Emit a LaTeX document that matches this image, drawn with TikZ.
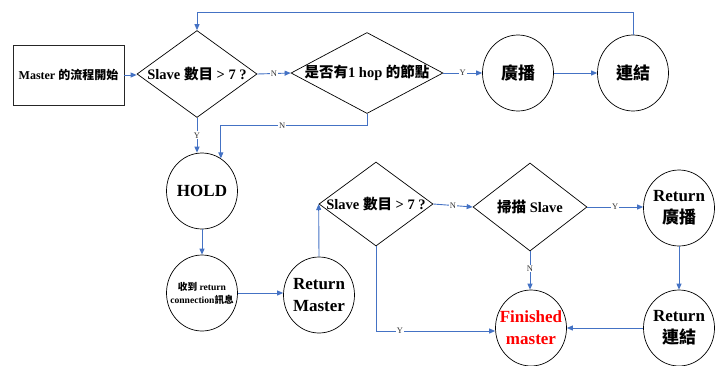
\documentclass[tikz,border=0pt]{standalone}
\usepackage{fontspec}
\setmainfont{Liberation Serif}
\newfontfamily\cjkfont{Noto Sans CJK TC}
\newcommand{\zhtxt}[1]{{\cjkfont\bfseries #1}}
\usetikzlibrary{shapes.geometric,arrows.meta,calc}
\definecolor{conn}{HTML}{4472C4}
\definecolor{fred}{HTML}{FF0000}
\tikzset{
  boxnode/.style={draw=black!85, line width=0.7pt, rectangle, minimum width=111, minimum height=60, inner sep=0pt},
  dianode/.style={draw=black, line width=0.7pt, diamond, inner sep=0pt},
  cirnode/.style={draw=black, line width=0.7pt, ellipse, minimum width=71, minimum height=76, inner sep=0pt},
  arr/.style={draw=conn, line width=0.9pt, -{Triangle[length=6pt,width=5pt]}},
  lbl/.style={fill=white, inner sep=1pt, font=\fontsize{8.5}{9}\selectfont, text=black!80},
  dtext/.style={font=\fontsize{14.5}{16}\selectfont\bfseries},
  ctext/.style={font=\fontsize{17}{22}\selectfont\bfseries, align=center},
}
\begin{document}
\begin{tikzpicture}[x=1pt,y=-1pt]
\useasboundingbox (0,0) rectangle (723,365);

% top row
\node[boxnode, font=\fontsize{12}{14}\selectfont\bfseries] (m) at (68.5,75) {Master \zhtxt{的流程開始}};
\node[dianode, minimum width=120, minimum height=87,
  label={[dtext]center:Slave \zhtxt{數目} > 7 ?}] (d1) at (197,74) {};
\node[dianode, minimum width=152, minimum height=81,
  label={[dtext]center:\zhtxt{是否有}1 hop \zhtxt{的節點}}] (d2) at (367,73) {};
\node[cirnode, label={[ctext]center:\zhtxt{廣播}}] (gb) at (518,73) {};
\node[cirnode, label={[ctext]center:\zhtxt{連結}}] (lj) at (633,73) {};

% left column
\node[cirnode, label={[ctext]center:HOLD}] (hold) at (202,191) {};
\node[cirnode, label={[font=\fontsize{9.6}{13}\selectfont\bfseries, align=center]center:\zhtxt{收到} return\\connection\zhtxt{訊息}}] (sd) at (202,293) {};
\node[cirnode, label={[ctext]center:Return\\Master}] (rm) at (319,295) {};

% lower row
\node[dianode, minimum width=114, minimum height=84,
  label={[dtext]center:Slave \zhtxt{數目} > 7 ?}] (d3) at (376,204) {};
\node[dianode, minimum width=114, minimum height=88,
  label={[dtext]center:\zhtxt{掃描} Slave}] (d4) at (530,207) {};
\node[cirnode, label={[ctext]center:Return\\\zhtxt{廣播}}] (rb) at (679,208) {};
\node[cirnode, label={[ctext]center:Return\\\zhtxt{連結}}] (rl) at (679,328) {};
\node[cirnode, label={[ctext, text=fred]center:Finished\\master}] (fm) at (531,328) {};

% connectors
\draw[arr] (m.east) -- (m.east -| d1.west);
\draw[arr] (d1.east) -- node[lbl]{N} (d2.west);
\draw[arr] (d2.east) -- node[lbl]{Y} (gb.west);
\draw[arr] (gb.east) -- (lj.west);
\draw[arr] (lj.north) -- ++(0,-22) -| (d1.north);
\draw[arr] (d1.south) -- node[lbl]{Y} (d1.south |- hold.north);
\draw[arr] (d2.south) -- ++(0,12) -| node[lbl, pos=0.29]{N} (hold.60);
\draw[arr] (hold.south) -- (sd.north);
\draw[arr] (sd.east) -- (sd.east -| rm.west);
\draw[arr] (rm.north) -- (d3.west);
\draw[arr] (d3.east) -- node[lbl]{N} (d4.west);
\draw[arr] (d4.east) -- node[lbl]{Y} (d4.east -| rb.west);
\draw[arr] (rb.south) -- (rl.north);
\draw[arr] (d4.south) -- node[lbl, pos=0.45]{N} (d4.south |- fm.north);
\draw[arr] (rl.west) -- (fm.east);
\draw[arr] (d3.south) |- node[lbl, pos=0.6]{Y} ($(fm.west)+(0,3)$);
\end{tikzpicture}
\end{document}
